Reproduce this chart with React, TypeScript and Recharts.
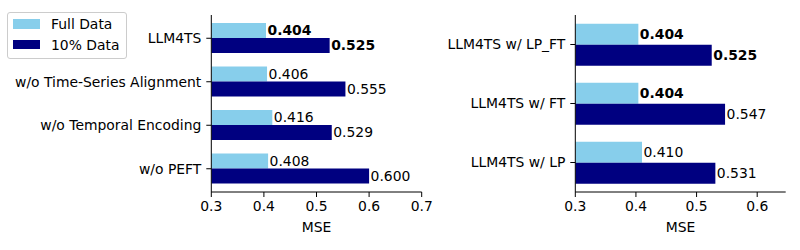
import React from 'react';
import { BarChart, Bar, XAxis, YAxis, LabelList } from 'recharts';

const leftCategories = ['LLM4TS', 'w/o Time-Series Alignment', 'w/o Temporal Encoding', 'w/o PEFT'];
const leftFull = [0.404, 0.406, 0.416, 0.408];
const leftTen = [0.525, 0.555, 0.529, 0.6];
const leftFullBold = [true, false, false, false];
const leftTenBold = [true, false, false, false];

const rightCategories = ['LLM4TS w/ LP_FT', 'LLM4TS w/ FT', 'LLM4TS w/ LP'];
const rightFull = [0.404, 0.404, 0.41];
const rightTen = [0.525, 0.547, 0.531];
const rightFullBold = [true, true, false];
const rightTenBold = [true, false, false];

const leftTicks = [0.3, 0.4, 0.5, 0.6, 0.7];
const rightTicks = [0.3, 0.4, 0.5, 0.6];

const FULL_COLOR = '#87CEEB';
const TEN_COLOR = '#000080';
const FONT = 'DejaVu Sans, sans-serif';
const FS = 13.9;

const leftData = leftCategories.map((c, i) => ({ name: c, full: leftFull[i], ten: leftTen[i] }));
const rightData = rightCategories.map((c, i) => ({ name: c, full: rightFull[i], ten: rightTen[i] }));

const makeLabel = (bold: boolean[]) => (props: any) => {
  const { x, y, width, height, value, index } = props;
  return (
    <text
      x={Number(x) + Number(width) + 1.5}
      y={Number(y) + Number(height) / 2}
      dy="0.355em"
      textAnchor="start"
      fontSize={FS}
      fontFamily={FONT}
      fontWeight={bold[index] ? 'bold' : 'normal'}
      fill="#000"
    >
      {Number(value).toFixed(3)}
    </text>
  );
};

const tickStyle = { fill: '#000', fontSize: FS, fontFamily: FONT };

function Panel(props: {
  data: any[];
  width: number;
  yWidth: number;
  marginRight: number;
  domain: [number, number];
  ticks: number[];
  fullBold: boolean[];
  tenBold: boolean[];
  pad: number;
}) {
  const { data, width, yWidth, marginRight, domain, ticks, fullBold, tenBold, pad } = props;
  return (
    <BarChart
      width={width}
      height={250}
      data={data}
      layout="vertical"
      margin={{ top: 15, right: marginRight, bottom: 18, left: 0 }}
      barCategoryGap="15%"
      barGap={0}
      style={{ fontFamily: FONT }}
    >
      <XAxis
        type="number"
        domain={domain}
        ticks={ticks}
        allowDataOverflow
        height={40}
        tick={tickStyle}
        tickSize={5}
        tickMargin={4}
        axisLine={{ stroke: '#000' }}
        tickLine={{ stroke: '#000' }}
        tickFormatter={(v: number) => v.toFixed(1)}
        label={{ value: 'MSE', position: 'insideBottom', offset: 0, fill: '#000', fontSize: FS, fontFamily: FONT }}
      />
      <YAxis
        type="category"
        dataKey="name"
        width={yWidth}
        tick={tickStyle}
        tickSize={5}
        tickMargin={5}
        padding={{ top: pad, bottom: pad }}
        axisLine={{ stroke: '#000' }}
        tickLine={{ stroke: '#000' }}
        interval={0}
      />
      <Bar dataKey="full" fill={FULL_COLOR} isAnimationActive={false}>
        <LabelList dataKey="full" content={makeLabel(fullBold)} />
      </Bar>
      <Bar dataKey="ten" fill={TEN_COLOR} isAnimationActive={false}>
        <LabelList dataKey="ten" content={makeLabel(tenBold)} />
      </Bar>
    </BarChart>
  );
}

export default function App() {
  return (
    <div style={{ position: 'absolute', left: 0, top: 0, width: 800, height: 250, background: '#fff', fontFamily: FONT }}>
      <div style={{ position: 'absolute', left: 0, top: 0 }}>
        <Panel
          data={leftData}
          width={440}
          yWidth={211.3}
          marginRight={18.3}
          domain={[0.3, 0.7]}
          ticks={leftTicks}
          fullBold={leftFullBold}
          tenBold={leftTenBold}
          pad={1.5}
        />
      </div>
      <div style={{ position: 'absolute', left: 440, top: 0 }}>
        <Panel
          data={rightData}
          width={360}
          yWidth={135.3}
          marginRight={14.3}
          domain={[0.3, 0.647]}
          ticks={rightTicks}
          fullBold={rightFullBold}
          tenBold={rightTenBold}
          pad={0}
        />
      </div>
      <div
        style={{
          position: 'absolute',
          left: 7,
          top: 12,
          width: 118,
          height: 45,
          border: '1px solid #cccccc',
          borderRadius: 3,
          background: 'rgba(255,255,255,0.8)',
          fontSize: FS,
          color: '#000',
        }}
      >
        {[
          { label: 'Full Data', color: FULL_COLOR, top: 6 },
          { label: '10% Data', color: TEN_COLOR, top: 26.5 },
        ].map((it) => (
          <div key={it.label} style={{ position: 'absolute', left: 5, top: it.top, height: 10, display: 'flex', alignItems: 'center' }}>
            <div style={{ width: 27, height: 9.5, background: it.color }} />
            <span style={{ marginLeft: 11, whiteSpace: 'nowrap', lineHeight: '10px' }}>{it.label}</span>
          </div>
        ))}
      </div>
    </div>
  );
}
